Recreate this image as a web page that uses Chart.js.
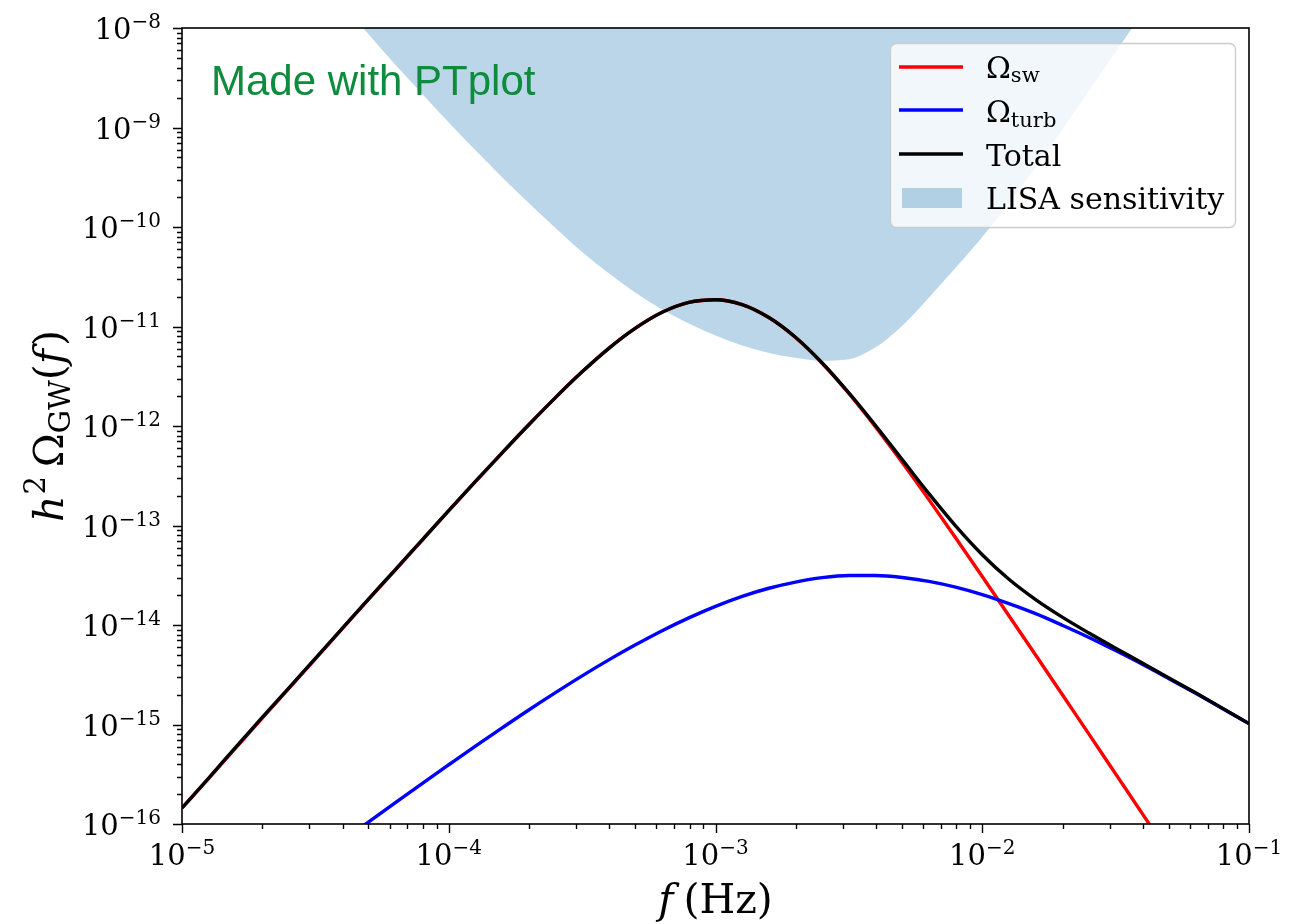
<!DOCTYPE html>
<html>
<head>
<meta charset="utf-8">
<title>GW spectrum</title>
<script src="https://cdn.jsdelivr.net/npm/chart.js@4.4.1/dist/chart.umd.min.js"></script>
<style>
  html, body { margin: 0; padding: 0; background: #fff; }
  #wrap { width: 1312px; height: 924px; position: relative; }
</style>
</head>
<body>
<div id="wrap"><canvas id="chartGW"></canvas></div>
<script>
// frequencies (Hz), 10 points per decade
const freqs = [
  1.000e-5, 1.259e-5, 1.585e-5, 1.995e-5, 2.512e-5, 3.162e-5, 3.981e-5, 5.012e-5, 6.310e-5, 7.943e-5,
  1.000e-4, 1.259e-4, 1.585e-4, 1.995e-4, 2.512e-4, 3.162e-4, 3.981e-4, 5.012e-4, 6.310e-4, 7.943e-4,
  1.000e-3, 1.259e-3, 1.585e-3, 1.995e-3, 2.512e-3, 3.162e-3, 3.981e-3, 5.012e-3, 6.310e-3, 7.943e-3,
  1.000e-2, 1.259e-2, 1.585e-2, 1.995e-2, 2.512e-2, 3.162e-2, 3.981e-2, 5.012e-2, 6.310e-2, 7.943e-2,
  1.000e-1
];
const omegaSw = [
  1.45e-16, 2.88e-16, 5.75e-16, 1.15e-15, 2.29e-15, 4.57e-15, 9.12e-15, 1.82e-14, 3.59e-14, 7.11e-14,
  1.41e-13, 2.76e-13, 5.37e-13, 1.03e-12, 1.93e-12, 3.50e-12, 6.03e-12, 9.62e-12, 1.39e-11, 1.75e-11,
  1.86e-11, 1.66e-11, 1.23e-11, 7.76e-12, 4.27e-12, 2.12e-12, 9.77e-13, 4.29e-13, 1.82e-13, 7.52e-14,
  3.07e-14, 1.24e-14, 5.00e-15, 2.00e-15, 8.00e-16, 3.19e-16, 1.27e-16, 5.08e-17, 2.04e-17, 8.13e-18,
  3.24e-18
];
const omegaTurb = [
  4.41e-18, 6.95e-18, 1.10e-17, 1.73e-17, 2.73e-17, 4.29e-17, 6.73e-17, 1.05e-16, 1.64e-16, 2.55e-16,
  3.94e-16, 6.07e-16, 9.25e-16, 1.40e-15, 2.09e-15, 3.08e-15, 4.46e-15, 6.32e-15, 8.77e-15, 1.18e-14,
  1.54e-14, 1.94e-14, 2.34e-14, 2.70e-14, 2.99e-14, 3.14e-14, 3.14e-14, 3.00e-14, 2.74e-14, 2.40e-14,
  2.02e-14, 1.64e-14, 1.30e-14, 9.95e-15, 7.50e-15, 5.53e-15, 4.03e-15, 2.89e-15, 2.06e-15, 1.45e-15,
  1.02e-15
];
const omegaTotal = [
  1.45e-16, 2.89e-16, 5.86e-16, 1.17e-15, 2.32e-15, 4.61e-15, 9.19e-15, 1.83e-14, 3.61e-14, 7.14e-14,
  1.41e-13, 2.77e-13, 5.38e-13, 1.03e-12, 1.93e-12, 3.50e-12, 6.03e-12, 9.63e-12, 1.39e-11, 1.75e-11,
  1.86e-11, 1.66e-11, 1.23e-11, 7.79e-12, 4.30e-12, 2.15e-12, 1.01e-12, 4.59e-13, 2.09e-13, 9.92e-14,
  5.09e-14, 2.88e-14, 1.80e-14, 1.20e-14, 8.30e-15, 5.85e-15, 4.16e-15, 2.94e-15, 2.08e-15, 1.46e-15,
  1.02e-15
];

// LISA sensitivity curve (lower edge of the shaded region)
const lisaFreq = [
  3.162e-5, 3.981e-5, 5.012e-5, 6.310e-5, 7.943e-5,
  1.000e-4, 1.259e-4, 1.585e-4, 1.995e-4, 2.512e-4, 3.162e-4, 3.981e-4, 5.012e-4, 6.310e-4, 7.943e-4,
  1.000e-3, 1.259e-3, 1.585e-3, 1.995e-3, 2.512e-3, 3.162e-3, 3.981e-3, 5.012e-3, 6.310e-3, 7.943e-3,
  1.000e-2, 1.259e-2, 1.585e-2, 1.995e-2, 2.512e-2, 3.162e-2, 3.981e-2, 5.012e-2
];
const lisaOmega = [
  3.63e-8, 1.78e-8, 8.61e-9, 4.27e-9, 2.19e-9,
  1.12e-9, 5.89e-10, 3.16e-10, 1.74e-10, 9.77e-11, 5.62e-11, 3.43e-11, 2.19e-11, 1.48e-11, 1.07e-11,
  8.13e-12, 6.46e-12, 5.43e-12, 4.84e-12, 4.52e-12, 4.68e-12, 6.17e-12, 1.02e-11, 1.95e-11, 3.89e-11,
  7.94e-11, 1.74e-10, 3.98e-10, 9.55e-10, 2.34e-9, 5.75e-9, 1.41e-8, 3.47e-8
];

const xTicks = [1e-5, 1e-4, 1e-3, 1e-2, 1e-1];
const xTickExp = ["\u22125", "\u22124", "\u22123", "\u22122", "\u22121"];
const yTicks = [1e-16, 1e-15, 1e-14, 1e-13, 1e-12, 1e-11, 1e-10, 1e-9, 1e-8];
const yTickExp = ["\u221216", "\u221215", "\u221214", "\u221213", "\u221212", "\u221211", "\u221210", "\u22129", "\u22128"];

(() => {
  const COLORS = {
    sw: "#ff0000",
    turb: "#0000ff",
    total: "#000000",
    lisa: "rgba(31, 119, 180, 0.3)",
    stamp: "#0c8c3c"
  };
  const SERIF = '"DejaVu Serif", serif';

  function font(size, italic) {
    return (italic ? "italic " : "") + size + "px " + SERIF;
  }

  // runs: [text, size, dy, italic, extraSpaceAfter]
  function drawRuns(ctx, runs, x, y, align) {
    let total = 0;
    runs.forEach((r) => {
      ctx.font = font(r[1], r[3]);
      total += ctx.measureText(r[0]).width + (r[4] || 0);
    });
    let cx = x;
    if (align === "right") cx = x - total;
    if (align === "center") cx = x - total / 2;
    ctx.textAlign = "left";
    ctx.textBaseline = "alphabetic";
    runs.forEach((r) => {
      ctx.font = font(r[1], r[3]);
      ctx.fillText(r[0], cx, y + (r[2] || 0));
      cx += ctx.measureText(r[0]).width + (r[4] || 0);
    });
  }

  const axesPlugin = {
    id: "axesPlugin",
    afterDraw(chart) {
      const { ctx, chartArea } = chart;
      const { left, right, top, bottom } = chartArea;
      const xs = chart.scales.x;
      const ys = chart.scales.y;

      ctx.save();
      ctx.fillStyle = "#000";
      ctx.strokeStyle = "#000";

      // ticks
      ctx.lineWidth = 1.4;
      ctx.beginPath();
      yTicks.forEach((v, i) => {
        const py = Math.round(ys.getPixelForValue(v)) + 0.5;
        ctx.moveTo(left, py);
        ctx.lineTo(left - 9, py);
        if (i < yTicks.length - 1) {
          for (let m = 2; m <= 9; m++) {
            const my = Math.round(ys.getPixelForValue(v * m)) + 0.5;
            ctx.moveTo(left, my);
            ctx.lineTo(left - 5, my);
          }
        }
      });
      xTicks.forEach((v, i) => {
        const px = Math.round(xs.getPixelForValue(v)) + 0.5;
        ctx.moveTo(px, bottom);
        ctx.lineTo(px, bottom + 9);
        if (i < xTicks.length - 1) {
          for (let m = 2; m <= 9; m++) {
            const mx = Math.round(xs.getPixelForValue(v * m)) + 0.5;
            ctx.moveTo(mx, bottom);
            ctx.lineTo(mx, bottom + 5);
          }
        }
      });
      ctx.stroke();

      // frame
      ctx.lineWidth = 1.6;
      ctx.strokeRect(left, top, right - left, bottom - top);

      // tick labels
      yTicks.forEach((v, i) => {
        const py = ys.getPixelForValue(v);
        drawRuns(ctx, [["10", 29, 0], [yTickExp[i], 20, -11]], left - 21, py + 11, "right");
      });
      xTicks.forEach((v, i) => {
        const px = xs.getPixelForValue(v);
        drawRuns(ctx, [["10", 29, 0], [xTickExp[i], 20, -11]], px, bottom + 41, "center");
      });

      // axis titles
      drawRuns(ctx, [["f", 41, 0, true, 10], ["(Hz)", 41, 0]], (left + right) / 2, 913, "center");

      ctx.save();
      ctx.translate(63, (top + bottom) / 2);
      ctx.rotate(-Math.PI / 2);
      drawRuns(ctx, [
        ["h", 41, 0, true, 1],
        ["2", 29, -18, false, 9],
        ["\u03a9", 41, 0],
        ["GW", 29, 7],
        ["(", 41, 0],
        ["f", 41, 0, true, 3],
        [")", 41, 0]
      ], 0, 0, "center");
      ctx.restore();

      // stamp
      ctx.fillStyle = COLORS.stamp;
      ctx.font = '42px "Liberation Sans", Arial, sans-serif';
      ctx.fillText("Made with PTplot", 211, 95);

      // legend
      ctx.beginPath();
      ctx.roundRect(890.5, 43.5, 345, 184, 6);
      ctx.fillStyle = "rgba(255,255,255,0.8)";
      ctx.fill();
      ctx.strokeStyle = "#cccccc";
      ctx.lineWidth = 1.3;
      ctx.stroke();

      const rows = [
        { color: COLORS.sw, y: 67, base: 77.5, runs: [["\u03a9", 30, 0], ["sw", 21, 4.5]] },
        { color: COLORS.turb, y: 110, base: 122, runs: [["\u03a9", 30, 0], ["turb", 21, 4.5]] },
        { color: COLORS.total, y: 154, base: 166, runs: [["Total", 30, 0]] }
      ];
      ctx.lineWidth = 3.5;
      rows.forEach((row) => {
        ctx.strokeStyle = row.color;
        ctx.beginPath();
        ctx.moveTo(899, row.y);
        ctx.lineTo(963, row.y);
        ctx.stroke();
        ctx.fillStyle = "#000";
        drawRuns(ctx, row.runs, 986, row.base, "left");
      });
      ctx.fillStyle = COLORS.lisa;
      ctx.fillRect(902, 188, 60, 20);
      ctx.fillStyle = "#000";
      drawRuns(ctx, [["LISA sensitivity", 30, 0]], 986, 209, "left");

      ctx.restore();
    }
  };

  const toPoints = (xsArr, ysArr) => xsArr.map((x, i) => ({ x, y: ysArr[i] }));

  const lineStyle = {
    borderWidth: 3.4,
    pointRadius: 0,
    fill: false,
    cubicInterpolationMode: "monotone",
    clip: 0
  };

  new Chart(document.getElementById("chartGW"), {
    type: "line",
    data: {
      datasets: [
        {
          label: "LISA sensitivity",
          data: toPoints(lisaFreq, lisaOmega),
          borderWidth: 0,
          borderColor: "rgba(0,0,0,0)",
          backgroundColor: COLORS.lisa,
          pointRadius: 0,
          fill: "end",
          cubicInterpolationMode: "monotone",
          clip: 0,
          order: 4
        },
        {
          ...lineStyle,
          label: "\u03a9sw",
          data: toPoints(freqs, omegaSw),
          borderColor: COLORS.sw,
          order: 3
        },
        {
          ...lineStyle,
          label: "\u03a9turb",
          data: toPoints(freqs, omegaTurb),
          borderColor: COLORS.turb,
          order: 2
        },
        {
          ...lineStyle,
          label: "Total",
          data: toPoints(freqs, omegaTotal),
          borderColor: COLORS.total,
          order: 1
        }
      ]
    },
    options: {
      responsive: true,
      maintainAspectRatio: false,
      animation: false,
      events: [],
      layout: {
        padding: { left: 182, right: 63, top: 28, bottom: 100 }
      },
      plugins: {
        legend: { display: false },
        tooltip: { enabled: false }
      },
      scales: {
        x: { type: "logarithmic", min: 1e-5, max: 1e-1, display: false },
        y: { type: "logarithmic", min: 1e-16, max: 1e-8, display: false }
      }
    },
    plugins: [axesPlugin]
  });
})();
</script>
</body>
</html>
